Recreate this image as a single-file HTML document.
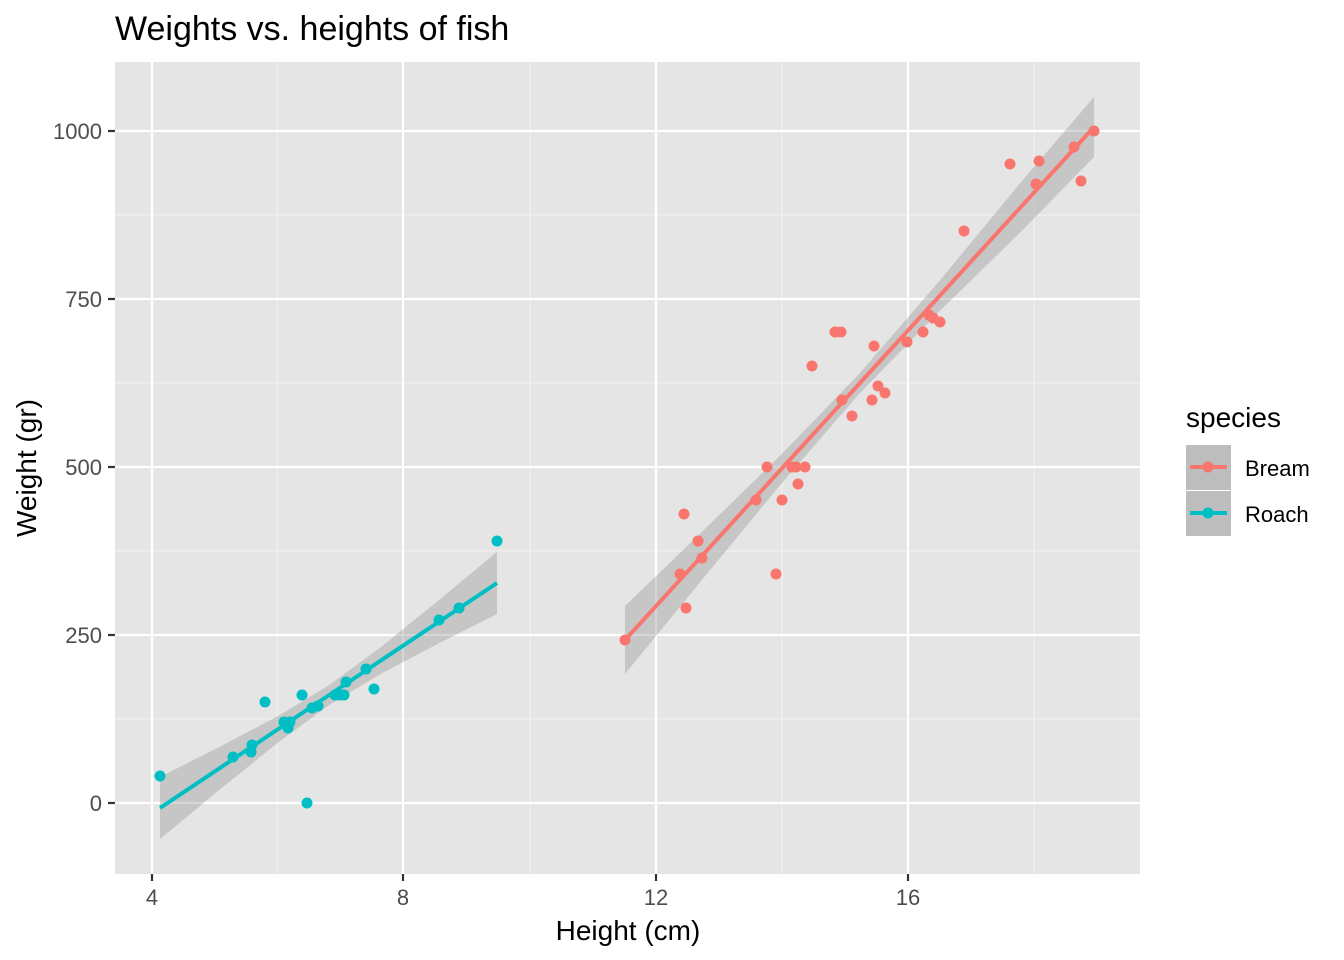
<!DOCTYPE html>
<html><head><meta charset="utf-8"><style>body{margin:0;background:#fff}svg{display:block;font-family:"Liberation Sans",Arial,sans-serif}</style></head>
<body>
<svg width="1344" height="960" viewBox="0 0 1344 960" xmlns="http://www.w3.org/2000/svg">
<rect width="1344" height="960" fill="#fff"/>
<rect x="115" y="62" width="1025" height="812" fill="#e5e5e5"/>
<g stroke="#f2f2f2" stroke-width="1.1">
<line x1="277" y1="62" x2="277" y2="874"/><line x1="530" y1="62" x2="530" y2="874"/><line x1="782" y1="62" x2="782" y2="874"/><line x1="1034" y1="62" x2="1034" y2="874"/>
<line x1="115" y1="215" x2="1140" y2="215"/><line x1="115" y1="383" x2="1140" y2="383"/><line x1="115" y1="551" x2="1140" y2="551"/><line x1="115" y1="719" x2="1140" y2="719"/>
</g>
<g stroke="#fff" stroke-width="2.2">
<line x1="152" y1="62" x2="152" y2="874"/><line x1="403" y1="62" x2="403" y2="874"/><line x1="656" y1="62" x2="656" y2="874"/><line x1="908" y1="62" x2="908" y2="874"/>
<line x1="115" y1="131" x2="1140" y2="131"/><line x1="115" y1="299" x2="1140" y2="299"/><line x1="115" y1="467" x2="1140" y2="467"/><line x1="115" y1="635" x2="1140" y2="635"/><line x1="115" y1="803" x2="1140" y2="803"/>
</g>
<polygon points="160,777 220,746.6 280,715 330,684.5 380,647.7 440,599.3 497,551.8 497,614.2 440,642.7 380,674.3 330,704.5 280,741 220,789.4 160,839" fill="#999" fill-opacity="0.4"/>
<polygon points="625,606 700,533.8 780,455.7 858,375.1 940,280.3 1020,183.3 1094,97 1094,157 1020,232.7 940,310.7 858,395.1 780,485.3 700,582.2 625,674" fill="#999" fill-opacity="0.4"/>
<line x1="160" y1="808" x2="497" y2="583" stroke="#00bfc4" stroke-width="4"/>
<line x1="625" y1="640" x2="1094" y2="127" stroke="#f8766d" stroke-width="4"/>
<g fill="#00bfc4">
<circle cx="160" cy="776" r="5.5"/><circle cx="233" cy="757" r="5.5"/><circle cx="251" cy="752" r="5.5"/><circle cx="252" cy="745" r="5.5"/><circle cx="265" cy="702" r="5.5"/><circle cx="284" cy="722" r="5.5"/><circle cx="288" cy="728" r="5.5"/><circle cx="290" cy="722" r="5.5"/><circle cx="302" cy="695" r="5.5"/><circle cx="307" cy="803" r="5.5"/><circle cx="312" cy="708" r="5.5"/><circle cx="318" cy="706" r="5.5"/><circle cx="335" cy="695" r="5.5"/><circle cx="340" cy="695" r="5.5"/><circle cx="344" cy="695" r="5.5"/><circle cx="346" cy="682" r="5.5"/><circle cx="366" cy="669" r="5.5"/><circle cx="374" cy="689" r="5.5"/><circle cx="439" cy="620" r="5.5"/><circle cx="459" cy="608" r="5.5"/><circle cx="497" cy="541" r="5.5"/>
</g>
<g fill="#f8766d">
<circle cx="625" cy="640" r="5.5"/><circle cx="680" cy="574" r="5.5"/><circle cx="684" cy="514" r="5.5"/><circle cx="686" cy="608" r="5.5"/><circle cx="698" cy="541" r="5.5"/><circle cx="702" cy="558" r="5.5"/><circle cx="756" cy="500" r="5.5"/><circle cx="767" cy="467" r="5.5"/><circle cx="776" cy="574" r="5.5"/><circle cx="782" cy="500" r="5.5"/><circle cx="792" cy="467" r="5.5"/><circle cx="796" cy="467" r="5.5"/><circle cx="798" cy="484" r="5.5"/><circle cx="805" cy="467" r="5.5"/><circle cx="812" cy="366" r="5.5"/><circle cx="835" cy="332" r="5.5"/><circle cx="841" cy="332" r="5.5"/><circle cx="842" cy="400" r="5.5"/><circle cx="852" cy="416" r="5.5"/><circle cx="872" cy="400" r="5.5"/><circle cx="874" cy="346" r="5.5"/><circle cx="878" cy="386" r="5.5"/><circle cx="885" cy="393" r="5.5"/><circle cx="907" cy="342" r="5.5"/><circle cx="923" cy="332" r="5.5"/><circle cx="929" cy="315" r="5.5"/><circle cx="933" cy="318" r="5.5"/><circle cx="940" cy="322" r="5.5"/><circle cx="964" cy="231" r="5.5"/><circle cx="1010" cy="164" r="5.5"/><circle cx="1036" cy="184" r="5.5"/><circle cx="1039" cy="161" r="5.5"/><circle cx="1074" cy="147" r="5.5"/><circle cx="1081" cy="181" r="5.5"/><circle cx="1094" cy="131" r="5.5"/>
</g>
<g stroke="#333" stroke-width="2.2">
<line x1="152" y1="874" x2="152" y2="881"/><line x1="403" y1="874" x2="403" y2="881"/><line x1="656" y1="874" x2="656" y2="881"/><line x1="908" y1="874" x2="908" y2="881"/>
<line x1="108" y1="131" x2="115" y2="131"/><line x1="108" y1="299" x2="115" y2="299"/><line x1="108" y1="467" x2="115" y2="467"/><line x1="108" y1="635" x2="115" y2="635"/><line x1="108" y1="803" x2="115" y2="803"/>
</g>
<g fill="#4d4d4d" font-size="22">
<g text-anchor="middle"><text x="152" y="905">4</text><text x="403" y="905">8</text><text x="656" y="905">12</text><text x="908" y="905">16</text></g>
<g text-anchor="end"><text x="102" y="139">1000</text><text x="102" y="307">750</text><text x="102" y="475">500</text><text x="102" y="643">250</text><text x="102" y="811">0</text></g>
</g>
<text x="628" y="940" text-anchor="middle" font-size="28" fill="#000">Height (cm)</text>
<text transform="translate(36,468) rotate(-90)" text-anchor="middle" font-size="28" fill="#000">Weight (gr)</text>
<text x="115" y="40" font-size="34" fill="#000">Weights vs. heights of fish</text>
<text x="1186" y="427" font-size="28" fill="#000">species</text>
<rect x="1186" y="445" width="45" height="45" fill="#bdbdbd"/>
<rect x="1186" y="491" width="45" height="45" fill="#bdbdbd"/>
<line x1="1190" y1="467" x2="1227" y2="467" stroke="#f8766d" stroke-width="4"/><circle cx="1208" cy="467" r="5.5" fill="#f8766d"/>
<line x1="1190" y1="513" x2="1227" y2="513" stroke="#00bfc4" stroke-width="4"/><circle cx="1208" cy="513" r="5.5" fill="#00bfc4"/>
<text x="1245" y="476" font-size="22" fill="#000">Bream</text>
<text x="1245" y="522" font-size="22" fill="#000">Roach</text>
</svg>
</body></html>
